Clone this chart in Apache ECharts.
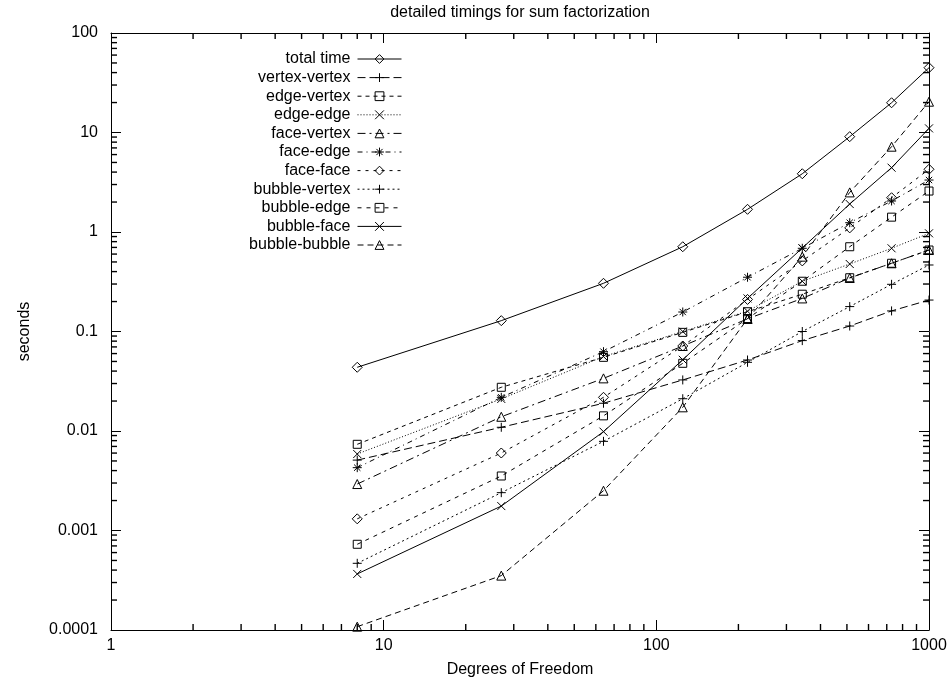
<!DOCTYPE html>
<html>
<head>
<meta charset="utf-8">
<script src="https://cdn.jsdelivr.net/npm/echarts@6/dist/echarts.min.js"></script>
<style>
  html, body { margin: 0; padding: 0; background: #fff; }
  #main { width: 951px; height: 681px; }
</style>
</head>
<body>
<div id="main"></div>
<script>
// degrees of freedom (x) and timings in seconds
const dofs = [8, 27, 64, 125, 216, 343, 512, 729, 1000];
const totalTime    = [0.0437, 0.1285, 0.305, 0.711, 1.69, 3.85, 9.08, 19.9, 44.8];
const vertexVertex = [0.0051, 0.0109, 0.019, 0.0326, 0.0517, 0.081, 0.1135, 0.161, 0.207];
const edgeVertex   = [0.00735, 0.0275, 0.055, 0.098, 0.158, 0.237, 0.347, 0.485, 0.659];
const edgeEdge     = [0.00587, 0.021, 0.056, 0.10, 0.16, 0.32, 0.477, 0.686, 0.97];
const faceVertex   = [0.00293, 0.0139, 0.0338, 0.0715, 0.134, 0.215, 0.345, 0.485, 0.659];
const faceEdge     = [0.00428, 0.0218, 0.0627, 0.157, 0.351, 0.686, 1.24, 2.05, 3.33];
const faceFace     = [0.00131, 0.00601, 0.0218, 0.0715, 0.21, 0.512, 1.10, 2.21, 4.27];
const bubbleVertex = [0.000468, 0.0024, 0.00787, 0.0211, 0.049, 0.100, 0.178, 0.298, 0.466];
const bubbleEdge   = [0.000727, 0.00353, 0.0142, 0.0479, 0.135, 0.32, 0.711, 1.41, 2.58];
const bubbleFace   = [0.000366, 0.00176, 0.00985, 0.052, 0.215, 0.69, 1.91, 4.43, 11.0];
const bubbleBubble = [0.000108, 0.000352, 0.00251, 0.0173, 0.134, 0.565, 2.5, 7.2, 20.4];

const seriesNames = ['total time', 'vertex-vertex', 'edge-vertex', 'edge-edge', 'face-vertex',
  'face-edge', 'face-face', 'bubble-vertex', 'bubble-edge', 'bubble-face', 'bubble-bubble'];
const seriesValues = [totalTime, vertexVertex, edgeVertex, edgeEdge, faceVertex,
  faceEdge, faceFace, bubbleVertex, bubbleEdge, bubbleFace, bubbleBubble];

// minor tick values (2..9 per decade)
const xMinorTicks = [2, 3, 4, 5, 6, 7, 8, 9, 20, 30, 40, 50, 60, 70, 80, 90, 200, 300, 400, 500, 600, 700, 800, 900];
const yMinorTicks = [];
[-4, -3, -2, -1, 0, 1].forEach(function (e) {
  for (let k = 2; k <= 9; k++) yMinorTicks.push(+(k * Math.pow(10, e)).toPrecision(2));
});

const X_MIN = 1, X_MAX = 1000, Y_MIN = 0.0001, Y_MAX = 100;

const PLUS = 'path://M0,5L10,5M5,0L5,10';
const CROSS = 'path://M0,0L10,10M10,0L0,10';
const STAR = 'path://M0,5L10,5M5,0L5,10M1.5,1.5L8.5,8.5M8.5,1.5L1.5,8.5';

const looks = [
  { symbol: 'diamond', size: 10, dash: 'solid' },
  { symbol: PLUS, size: 9, dash: [8, 4] },
  { symbol: 'rect', size: 8, dash: [4, 4] },
  { symbol: CROSS, size: 8, dash: [1, 2] },
  { symbol: 'triangle', size: 9, dash: [8, 4, 2, 4] },
  { symbol: STAR, size: 9, dash: [5, 4, 1, 4] },
  { symbol: 'diamond', size: 10, dash: [3, 5] },
  { symbol: PLUS, size: 9, dash: [2, 3] },
  { symbol: 'rect', size: 8, dash: [4, 5] },
  { symbol: CROSS, size: 8, dash: 'solid' },
  { symbol: 'triangle', size: 9, dash: [6, 4] }
];

const FONT = '"Liberation Sans", Arial, sans-serif';
const FS = 16;

const lineSeries = seriesNames.map(function (name, i) {
  return {
    name: name,
    type: 'line',
    data: dofs.map(function (x, j) { return [x, seriesValues[i][j]]; }),
    symbol: looks[i].symbol,
    symbolSize: looks[i].size,
    showAllSymbol: true,
    lineStyle: { color: '#000', width: 1, type: looks[i].dash },
    itemStyle: { color: 'rgba(0,0,0,0)', borderColor: '#000', borderWidth: 1 },
    emphasis: { disabled: true },
    z: 3
  };
});

// minor ticks: short bars placed through the axis scales on all four sides
function tickSeries(name, data, size, offset) {
  return {
    name: name,
    type: 'scatter',
    clip: false,
    silent: true,
    data: data,
    symbol: 'rect',
    symbolSize: size,
    symbolOffset: offset,
    itemStyle: { color: '#000', opacity: 1 }
  };
}
const minorTicks = [
  tickSeries('minor-bottom', xMinorTicks.map(function (v) { return [v, Y_MIN]; }), [1.4, 6], [0, -3]),
  tickSeries('minor-top', xMinorTicks.map(function (v) { return [v, Y_MAX]; }), [1.4, 6], [0, 3]),
  tickSeries('minor-left', yMinorTicks.map(function (v) { return [X_MIN, v]; }), [6, 1.4], [3, 0]),
  tickSeries('minor-right', yMinorTicks.map(function (v) { return [X_MAX, v]; }), [6, 1.4], [-3, 0])
];

// one legend per row so that the samples line up on the right
const legends = seriesNames.map(function (name, i) {
  return {
    data: [name],
    orient: 'vertical',
    align: 'right',
    right: 549,
    top: 51 + i * 18.6,
    padding: 0,
    itemWidth: 44,
    itemHeight: 11,
    itemGap: 0,
    selectedMode: false,
    itemStyle: { color: 'rgba(0,0,0,0)', borderColor: '#000', borderWidth: 1 },
    lineStyle: { width: 1, color: '#000' },
    textStyle: { fontFamily: FONT, fontSize: FS, color: '#000', padding: [0, 2, 0, 0] }
  };
});

const axisCommon = {
  axisLine: { show: true, onZero: false, lineStyle: { color: '#000', width: 1 } },
  axisTick: { show: true, inside: true, length: 10, lineStyle: { color: '#000', width: 1 } },
  splitLine: { show: false },
  minorTick: { show: false },
  nameTextStyle: { fontFamily: FONT, fontSize: FS, color: '#000' }
};

const fmt = function (v) { return String(Number(Number(v).toPrecision(2))); };

const option = {
  animation: false,
  backgroundColor: '#fff',
  legend: legends,
  grid: { left: 111, right: 22, top: 33, bottom: 51, containLabel: false, outerBoundsMode: 'none' },
  xAxis: [
    Object.assign({}, axisCommon, {
      type: 'log', logBase: 10, min: X_MIN, max: X_MAX, interval: 1, position: 'bottom',
      name: 'Degrees of Freedom', nameLocation: 'middle', nameGap: 32,
      axisLabel: { fontFamily: FONT, fontSize: FS, color: '#000', margin: 8, formatter: fmt }
    }),
    Object.assign({}, axisCommon, {
      type: 'log', logBase: 10, min: X_MIN, max: X_MAX, interval: 1, position: 'top',
      name: 'detailed timings for sum factorization', nameLocation: 'middle', nameGap: 12,
      axisLabel: { show: false }
    })
  ],
  yAxis: [
    Object.assign({}, axisCommon, {
      type: 'log', logBase: 10, min: Y_MIN, max: Y_MAX, interval: 1, position: 'left',
      name: 'seconds', nameLocation: 'middle', nameGap: 78, nameRotate: 90,
      axisLabel: { fontFamily: FONT, fontSize: FS, color: '#000', margin: 13, formatter: fmt }
    }),
    Object.assign({}, axisCommon, {
      type: 'log', logBase: 10, min: Y_MIN, max: Y_MAX, interval: 1, position: 'right',
      axisLabel: { show: false }
    })
  ],
  series: lineSeries.concat(minorTicks)
};

const chart = echarts.init(document.getElementById('main'), null, { renderer: 'canvas' });
chart.setOption(option);
</script>
</body>
</html>
